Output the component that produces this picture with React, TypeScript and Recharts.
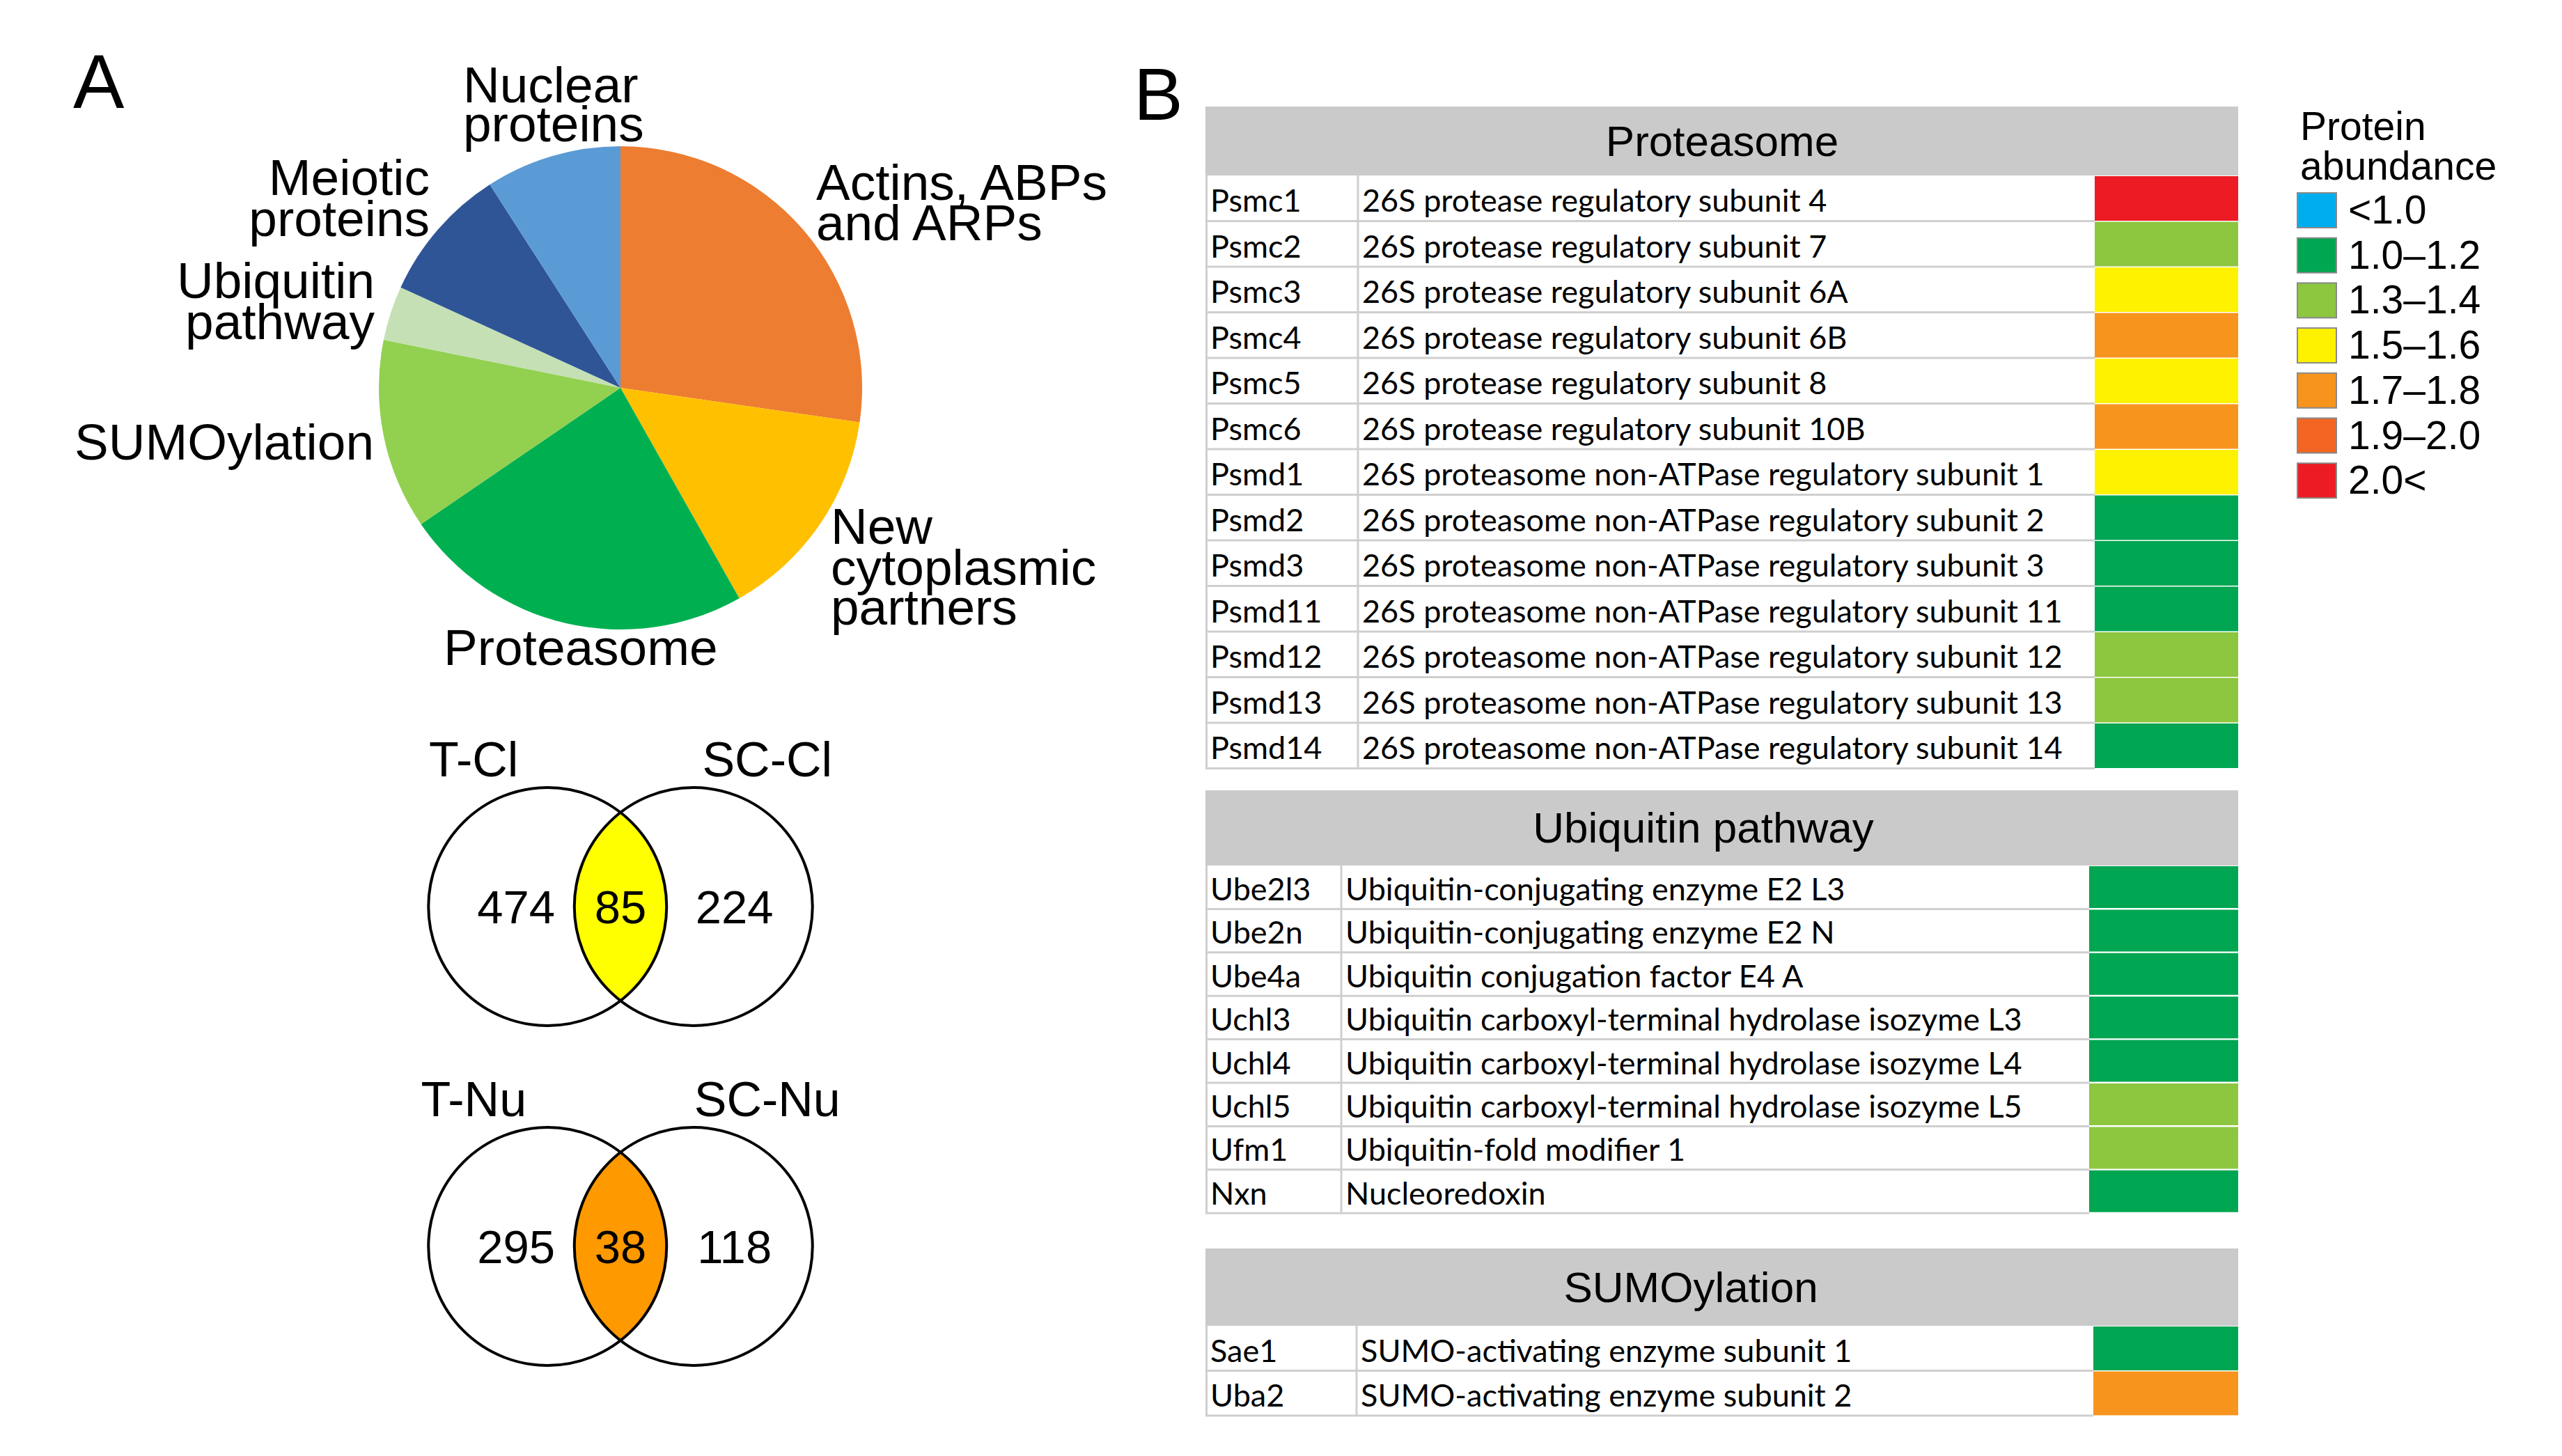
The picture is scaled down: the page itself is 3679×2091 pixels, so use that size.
import React from "react";
import { PieChart, Pie, Cell, ScatterChart, Scatter, XAxis, YAxis, BarChart, Bar } from "recharts";

const ARIAL = '"Liberation Sans", Arial, Helvetica, sans-serif';
const CALIBRI = 'Lato, "Open Sans", sans-serif';
const GRID = "#cfcfcf";
const HEADER_BG = "#cacaca";

// Panel A: pie of interaction partner groups
const pieCategories = [
  "Actins, ABPs and ARPs",
  "New cytoplasmic partners",
  "Proteasome",
  "SUMOylation",
  "Ubiquitin pathway",
  "Meiotic proteins",
  "Nuclear proteins",
];
const pieCounts = [15, 8, 13, 7, 2, 5, 5];
const pieColors = ["#ED7D31", "#FFC000", "#00B050", "#92D050", "#C5E0B4", "#2F5597", "#5B9BD5"];

// Venn diagrams
const vennLabels = [
  ["T-Cl", "SC-Cl"],
  ["T-Nu", "SC-Nu"],
];
const vennOnly = [
  [474, 224],
  [295, 118],
];
const vennShared = [85, 38];
const vennFills = ["#FFFF00", "#FF9900"];

// Panel B: abundance classes
const levelLabels = ["<1.0", "1.0–1.2", "1.3–1.4", "1.5–1.6", "1.7–1.8", "1.9–2.0", "2.0<"];
const levelColors = ["#00AEEF", "#00A651", "#8DC63F", "#FFF200", "#F7941D", "#F26522", "#ED1C24"];

const proteasomeGenes = ["Psmc1", "Psmc2", "Psmc3", "Psmc4", "Psmc5", "Psmc6", "Psmd1", "Psmd2", "Psmd3", "Psmd11", "Psmd12", "Psmd13", "Psmd14"];
const proteasomeNames = [
  "26S protease regulatory subunit 4",
  "26S protease regulatory subunit 7",
  "26S protease regulatory subunit 6A",
  "26S protease regulatory subunit 6B",
  "26S protease regulatory subunit 8",
  "26S protease regulatory subunit 10B",
  "26S proteasome non-ATPase regulatory subunit 1",
  "26S proteasome non-ATPase regulatory subunit 2",
  "26S proteasome non-ATPase regulatory subunit 3",
  "26S proteasome non-ATPase regulatory subunit 11",
  "26S proteasome non-ATPase regulatory subunit 12",
  "26S proteasome non-ATPase regulatory subunit 13",
  "26S proteasome non-ATPase regulatory subunit 14",
];
const proteasomeLevels = ["2.0<", "1.3–1.4", "1.5–1.6", "1.7–1.8", "1.5–1.6", "1.7–1.8", "1.5–1.6", "1.0–1.2", "1.0–1.2", "1.0–1.2", "1.3–1.4", "1.3–1.4", "1.0–1.2"];

const ubiquitinGenes = ["Ube2l3", "Ube2n", "Ube4a", "Uchl3", "Uchl4", "Uchl5", "Ufm1", "Nxn"];
const ubiquitinNames = [
  "Ubiquitin-conjugating enzyme E2 L3",
  "Ubiquitin-conjugating enzyme E2 N",
  "Ubiquitin conjugation factor E4 A",
  "Ubiquitin carboxyl-terminal hydrolase isozyme L3",
  "Ubiquitin carboxyl-terminal hydrolase isozyme L4",
  "Ubiquitin carboxyl-terminal hydrolase isozyme L5",
  "Ubiquitin-fold modifier 1",
  "Nucleoredoxin",
];
const ubiquitinLevels = ["1.0–1.2", "1.0–1.2", "1.0–1.2", "1.0–1.2", "1.0–1.2", "1.3–1.4", "1.3–1.4", "1.0–1.2"];

const sumoGenes = ["Sae1", "Uba2"];
const sumoNames = ["SUMO-activating enzyme subunit 1", "SUMO-activating enzyme subunit 2"];
const sumoLevels = ["1.0–1.2", "1.7–1.8"];

const levelColor = (lv: string) => levelColors[levelLabels.indexOf(lv)];

// where the pie labels sit (page px)
const pieLabelLayout: Record<string, { x: number; anchor: string; lines: string[]; y: number[] }> = {
  "Actins, ABPs and ARPs": { x: 1172, anchor: "start", lines: ["Actins, ABPs", "and ARPs"], y: [287, 345] },
  "New cytoplasmic partners": { x: 1193, anchor: "start", lines: ["New", "cytoplasmic", "partners"], y: [781, 840, 897] },
  Proteasome: { x: 637, anchor: "start", lines: ["Proteasome"], y: [955] },
  SUMOylation: { x: 107, anchor: "start", lines: ["SUMOylation"], y: [660] },
  "Ubiquitin pathway": { x: 538, anchor: "end", lines: ["Ubiquitin", "pathway"], y: [428, 487] },
  "Meiotic proteins": { x: 617, anchor: "end", lines: ["Meiotic", "proteins"], y: [280, 339] },
  "Nuclear proteins": { x: 665, anchor: "start", lines: ["Nuclear", "proteins"], y: [147, 203] },
};

function PieLabel(props: any) {
  const spec = pieLabelLayout[props.name];
  if (!spec) return null;
  return (
    <text textAnchor={spec.anchor} fontFamily={ARIAL} fontSize={73} fill="#000">
      {spec.lines.map((l, i) => (
        <tspan key={i} x={spec.x} y={spec.y[i]}>
          {l}
        </tspan>
      ))}
    </text>
  );
}

function PiePanel() {
  const data = pieCategories.map((name, i) => ({ name, value: pieCounts[i] }));
  return (
    <div style={{ position: "absolute", left: 0, top: 0 }}>
      <PieChart width={1700} height={1000} margin={{ top: 0, right: 0, bottom: 0, left: 0 }}>
        <Pie
          data={data}
          dataKey="value"
          nameKey="name"
          cx={891}
          cy={557}
          outerRadius={347}
          startAngle={90}
          endAngle={-270}
          stroke="none"
          label={PieLabel}
          labelLine={false}
          isAnimationActive={false}
        >
          {data.map((d, i) => (
            <Cell key={d.name} fill={pieColors[i]} />
          ))}
        </Pie>
      </PieChart>
    </div>
  );
}

const VENN_R = 171;
const VENN_D = 209.5;

function Venn({ idx, midX, midY }: { idx: number; midX: number; midY: number }) {
  const W = 800;
  const H = 560;
  const half = W / (2 * VENN_D);
  const sets = vennLabels[idx].map((label, i) => ({
    x: i === 0 ? -0.5 : 0.5,
    y: 0,
    label,
    count: vennOnly[idx][i],
    side: i === 0 ? -1 : 1,
  }));
  const shared = [{ x: 0, y: 0, count: vennShared[idx] }];
  const a = VENN_D / 2;
  const h = Math.sqrt(VENN_R * VENN_R - a * a);

  const lensShape = (p: any) => (
    <g>
      <path
        d={`M ${p.cx} ${p.cy - h} A ${VENN_R} ${VENN_R} 0 0 1 ${p.cx} ${p.cy + h} A ${VENN_R} ${VENN_R} 0 0 1 ${p.cx} ${p.cy - h} Z`}
        fill={vennFills[idx]}
        stroke="none"
      />
      <text x={p.cx} y={p.cy + 24} textAnchor="middle" fontFamily={ARIAL} fontSize={67} fill="#000">
        {p.payload.count}
      </text>
    </g>
  );

  const setShape = (p: any) => (
    <g>
      <circle cx={p.cx} cy={p.cy} r={VENN_R} fill="none" stroke="#000" strokeWidth={4} />
      <text x={p.cx + p.payload.side * 106} y={p.cy - 187} textAnchor="middle" fontFamily={ARIAL} fontSize={70} fill="#000">
        {p.payload.label}
      </text>
      <text
        x={p.cx + (p.payload.side < 0 ? -45 : 59)}
        y={p.cy + 24}
        textAnchor="middle"
        fontFamily={ARIAL}
        fontSize={67}
        fill="#000"
      >
        {p.payload.count}
      </text>
    </g>
  );

  return (
    <div style={{ position: "absolute", left: midX - W / 2, top: midY - H / 2 }}>
      <ScatterChart width={W} height={H} margin={{ top: 0, right: 0, bottom: 0, left: 0 }}>
        <XAxis type="number" dataKey="x" domain={[-half, half]} hide />
        <YAxis type="number" dataKey="y" domain={[-1, 1]} hide />
        <Scatter data={shared} shape={lensShape} isAnimationActive={false} />
        <Scatter data={sets} shape={setShape} isAnimationActive={false} />
      </ScatterChart>
    </div>
  );
}

type TableProps = {
  title: string;
  titleX: number;
  left: number;
  top: number;
  headerH: number;
  rowH: number;
  dividerX: number;
  colorX: number;
  genes: string[];
  names: string[];
  levels: string[];
};

function GeneTable({ title, titleX, left, top, headerH, rowH, dividerX, colorX, genes, names, levels }: TableProps) {
  const width = 1483;
  const data = genes.map((g, i) => ({ gene: g, desc: names[i], level: levels[i], v: 1 }));
  const bodyH = rowH * genes.length;

  const tick = (p: any) => {
    const i = genes.indexOf(p.payload.value);
    const y = p.y;
    return (
      <g>
        <line x1={0} x2={colorX} y1={y + rowH / 2} y2={y + rowH / 2} stroke={GRID} strokeWidth={3} />
        <line x1={1.5} x2={1.5} y1={y - rowH / 2} y2={y + rowH / 2} stroke={GRID} strokeWidth={3} />
        <line x1={dividerX} x2={dividerX} y1={y - rowH / 2} y2={y + rowH / 2} stroke={GRID} strokeWidth={3} />
        <text x={7} y={y + rowH * 0.3} fontFamily={CALIBRI} fontSize={45} fill="#000">
          {genes[i]}
        </text>
        <text x={dividerX + 6} y={y + rowH * 0.3} fontFamily={CALIBRI} fontSize={45} fill="#000">
          {names[i]}
        </text>
      </g>
    );
  };

  return (
    <div style={{ position: "absolute", left, top, width }}>
      <div style={{ height: headerH, background: HEADER_BG, position: "relative" }}>
        <span
          style={{
            position: "absolute",
            left: titleX,
            top: 0,
            transform: "translateX(-50%)",
            lineHeight: `${headerH}px`,
            fontFamily: ARIAL,
            fontSize: 62,
            whiteSpace: "nowrap",
          }}
        >
          {title}
        </span>
      </div>
      <BarChart
        width={width}
        height={bodyH + 3}
        data={data}
        layout="vertical"
        margin={{ top: 0, right: 0, bottom: 3, left: 0 }}
        barCategoryGap={1}
      >
        <XAxis type="number" domain={[0, 1]} hide />
        <YAxis type="category" dataKey="gene" width={colorX} tick={tick} tickLine={false} axisLine={false} interval={0} />
        <Bar dataKey="v" isAnimationActive={false}>
          {data.map((d) => (
            <Cell key={d.gene} fill={levelColor(d.level)} />
          ))}
        </Bar>
      </BarChart>
    </div>
  );
}

function Overlay() {
  return (
    <svg width={3679} height={2091} style={{ position: "absolute", left: 0, top: 0 }}>
      <text x={105} y={155} fontFamily={ARIAL} fontSize={110} fill="#000">
        A
      </text>
      <text x={1628} y={172} fontFamily={ARIAL} fontSize={106} fill="#000">
        B
      </text>
      <text fontFamily={ARIAL} fontSize={57} fill="#000">
        <tspan x={3303} y={201}>
          Protein
        </tspan>
        <tspan x={3303} y={258}>
          abundance
        </tspan>
      </text>
      {levelLabels.map((lv, i) => (
        <g key={lv}>
          <rect x={3299} y={277 + i * 64.7} width={56} height={50} fill={levelColors[i]} stroke="#8a8a8a" strokeWidth={2} />
          <text x={3372} y={277 + i * 64.7 + 44} fontFamily={ARIAL} fontSize={57} fill="#000">
            {lv}
          </text>
        </g>
      ))}
    </svg>
  );
}

export default function App() {
  return (
    <div style={{ position: "absolute", left: 0, top: 0, width: 3679, height: 2091, background: "#fff", overflow: "hidden" }}>
      <Overlay />
      <PiePanel />
      <Venn idx={0} midX={890.75} midY={1302} />
      <Venn idx={1} midX={890.75} midY={1790} />
      <GeneTable
        title="Proteasome"
        titleX={742}
        left={1731}
        top={153}
        headerH={99}
        rowH={65.5}
        dividerX={219}
        colorX={1277}
        genes={proteasomeGenes}
        names={proteasomeNames}
        levels={proteasomeLevels}
      />
      <GeneTable
        title="Ubiquitin pathway"
        titleX={715}
        left={1731}
        top={1135}
        headerH={108}
        rowH={62.4}
        dividerX={195}
        colorX={1269}
        genes={ubiquitinGenes}
        names={ubiquitinNames}
        levels={ubiquitinLevels}
      />
      <GeneTable
        title="SUMOylation"
        titleX={697}
        left={1731}
        top={1793}
        headerH={111}
        rowH={64.5}
        dividerX={217}
        colorX={1275}
        genes={sumoGenes}
        names={sumoNames}
        levels={sumoLevels}
      />
    </div>
  );
}
